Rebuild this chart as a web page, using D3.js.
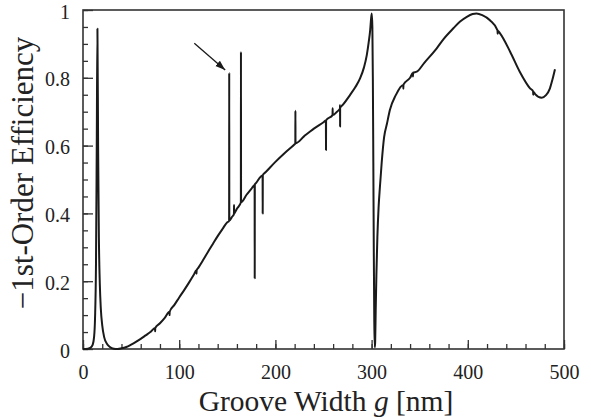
<!DOCTYPE html>
<html>
<head>
<meta charset="utf-8">
<script src="https://cdn.jsdelivr.net/npm/d3@7"></script>
<style>
  html, body { margin: 0; padding: 0; background: #fff; }
  svg { display: block; }
  text { font-family: "Liberation Serif", "DejaVu Serif", serif; fill: #222; }
</style>
</head>
<body>
<svg id="chart" width="591" height="417"></svg>
<script>
// ---- data ----
// groove width g [nm]
const groove = [
  0, 5, 8, 10, 11.5, 12.5, 13.5, 14.3, 15, 15.7, 16.5, 17.5, 18.5, 20, 22, 25, 28, 32, 36,
  40, 45, 50, 55, 60, 65, 70, 74.9, 75, 75.1, 80, 85, 89.9, 90, 90.1, 95, 100, 105, 110, 115,
  117.9, 118, 118.1, 120, 125, 130, 135, 140, 145, 150,
  151.9, 152, 152.1, 155, 156.9, 157, 157.1, 160, 164.1, 164.2, 164.3, 170, 175,
  178.4, 178.5, 178.6, 180, 186.7, 186.8, 186.9, 190, 200, 210, 220,
  220.7, 220.8, 220.9, 230, 240, 250, 252.5, 252.6, 252.7, 259.4, 259.5, 259.6,
  264, 267.1, 267.2, 267.25, 267.3, 270, 277.5, 283, 288, 292, 295, 297, 298.5, 299.5,
  300.2, 300.8, 301.3, 301.8, 302.3, 302.8, 303.3, 303.7, 304.3, 305, 306, 307.3, 308.7,
  310.5, 313, 316, 319, 325, 332.9, 333, 333.1, 340, 342.9, 343, 343.1, 347, 355, 367.7,
  375, 385, 392, 399, 405, 409, 415, 423, 430.9, 431, 431.1, 433.5, 444, 454, 464.7,
  467.9, 468, 468.1, 470, 476.8, 481, 485.4, 488, 490.6
];
// -1st-order efficiency
const efficiency = [
  0.000, 0.001, 0.004, 0.012, 0.035, 0.09, 0.25, 0.6, 0.945, 0.6, 0.33, 0.19, 0.12, 0.07, 0.035, 0.015, 0.006, 0.001, 0.000,
  0.002, 0.006, 0.013, 0.021, 0.030, 0.040, 0.050, 0.062, 0.052, 0.062, 0.076, 0.092, 0.110, 0.100, 0.110, 0.130, 0.152, 0.173, 0.195, 0.218,
  0.232, 0.222, 0.232, 0.240, 0.263, 0.287, 0.310, 0.333, 0.354, 0.374,
  0.377, 0.815, 0.379, 0.390, 0.398, 0.425, 0.400, 0.414, 0.432, 0.877, 0.433, 0.455, 0.472,
  0.484, 0.209, 0.485, 0.490, 0.512, 0.400, 0.513, 0.522, 0.552, 0.579, 0.604,
  0.606, 0.703, 0.607, 0.628, 0.650, 0.669, 0.674, 0.587, 0.675, 0.690, 0.710, 0.690,
  0.700, 0.709, 0.720, 0.656, 0.711, 0.720, 0.749, 0.772, 0.798, 0.830, 0.867, 0.905, 0.940, 0.975,
  0.990, 0.950, 0.800, 0.550, 0.280, 0.080, 0.005, 0.020, 0.120, 0.220, 0.330, 0.420, 0.480,
  0.550, 0.625, 0.665, 0.705, 0.748, 0.779, 0.768, 0.780, 0.800, 0.814, 0.804, 0.815, 0.818, 0.845, 0.887,
  0.915, 0.946, 0.966, 0.980, 0.988, 0.990, 0.985, 0.970, 0.940, 0.930, 0.939, 0.931, 0.877, 0.818, 0.769,
  0.760, 0.750, 0.759, 0.752, 0.741, 0.748, 0.769, 0.795, 0.825
];
// arrow annotation (data coords): start and tip
const arrowFrom = [115.7, 0.902];
const arrowTo = [147.8, 0.823];

const xMajorTicks = [0, 100, 200, 300, 400, 500];
const xMinorTicks = d3.range(0, 501, 20);
const yMajorTicks = [0, 0.2, 0.4, 0.6, 0.8, 1];
const yTickLabels = ["0", "0.2", "0.4", "0.6", "0.8", "1"];
const yMinorTicks = d3.range(0, 1.0001, 0.05);

const xTitle = "Groove Width ";
const yTitle = "\u22121st-Order Efficiency";

(function () {
  // ---- layout ----
  const svg = d3.select("#chart");
  const pLeft = 83, pRight = 564, pTop = 10, pBottom = 349;
  const x = d3.scaleLinear().domain([0, 500]).range([pLeft, pRight]);
  const y = d3.scaleLinear().domain([0, 1]).range([pBottom, pTop]);

  // minor ticks
  svg.append("g").attr("transform", `translate(0,${pBottom})`)
    .call(d3.axisBottom(x).tickValues(xMinorTicks).tickSize(-5).tickFormat(""))
    .call(g => g.select(".domain").remove())
    .call(g => g.selectAll("line").attr("stroke", "#333").attr("stroke-width", 1.3));
  svg.append("g").attr("transform", `translate(${pLeft},0)`)
    .call(d3.axisLeft(y).tickValues(yMinorTicks).tickSize(-5).tickFormat(""))
    .call(g => g.select(".domain").remove())
    .call(g => g.selectAll("line").attr("stroke", "#333").attr("stroke-width", 1.3));

  // major ticks + labels
  svg.append("g").attr("transform", `translate(0,${pBottom})`)
    .call(d3.axisBottom(x).tickValues(xMajorTicks).tickSize(-9).tickPadding(16).tickFormat(d3.format("d")))
    .call(g => g.select(".domain").remove())
    .call(g => g.selectAll("line").attr("stroke", "#333").attr("stroke-width", 1.3))
    .call(g => g.selectAll("text").attr("font-size", 20).attr("fill", "#222"));
  svg.append("g").attr("transform", `translate(${pLeft},0)`)
    .call(d3.axisLeft(y).tickValues(yMajorTicks).tickSize(-10).tickPadding(13)
          .tickFormat((d, i) => yTickLabels[i]))
    .call(g => g.select(".domain").remove())
    .call(g => g.selectAll("line").attr("stroke", "#333").attr("stroke-width", 1.3))
    .call(g => g.selectAll("text").attr("font-size", 20).attr("dy", "0.4em").attr("fill", "#222"));

  // frame
  svg.append("rect")
    .attr("x", pLeft).attr("y", pTop)
    .attr("width", pRight - pLeft).attr("height", pBottom - pTop)
    .attr("fill", "none").attr("stroke", "#333").attr("stroke-width", 1.6);

  // curve
  const pts = groove.map((g, i) => [g, efficiency[i]]);
  const line = d3.line().x(d => x(d[0])).y(d => y(d[1])).curve(d3.curveMonotoneX);
  svg.append("path")
    .attr("d", line(pts))
    .attr("fill", "none").attr("stroke", "#1a1a1a")
    .attr("stroke-width", 2).attr("stroke-linejoin", "round");

  // arrow
  const defs = svg.append("defs");
  defs.append("marker").attr("id", "arrowhead")
    .attr("viewBox", "0 0 10 10").attr("refX", 10).attr("refY", 5)
    .attr("markerWidth", 10).attr("markerHeight", 10)
    .attr("markerUnits", "userSpaceOnUse")
    .attr("orient", "auto")
    .append("path").attr("d", "M0,1.5 L10,5 L0,8.5 Z").attr("fill", "#1a1a1a");
  svg.append("line")
    .attr("x1", x(arrowFrom[0])).attr("y1", y(arrowFrom[1]))
    .attr("x2", x(arrowTo[0])).attr("y2", y(arrowTo[1]))
    .attr("stroke", "#1a1a1a").attr("stroke-width", 1.3)
    .attr("marker-end", "url(#arrowhead)");

  // titles
  const xt = svg.append("text")
    .attr("x", 326).attr("y", 411)
    .attr("text-anchor", "middle").attr("font-size", 29.5);
  xt.append("tspan").text(xTitle);
  xt.append("tspan").attr("font-style", "italic").text("g");
  xt.append("tspan").text(" [nm]");

  svg.append("text")
    .attr("transform", "translate(33,173) rotate(-90)")
    .attr("text-anchor", "middle").attr("font-size", 31)
    .text(yTitle);
})();
</script>
</body>
</html>
